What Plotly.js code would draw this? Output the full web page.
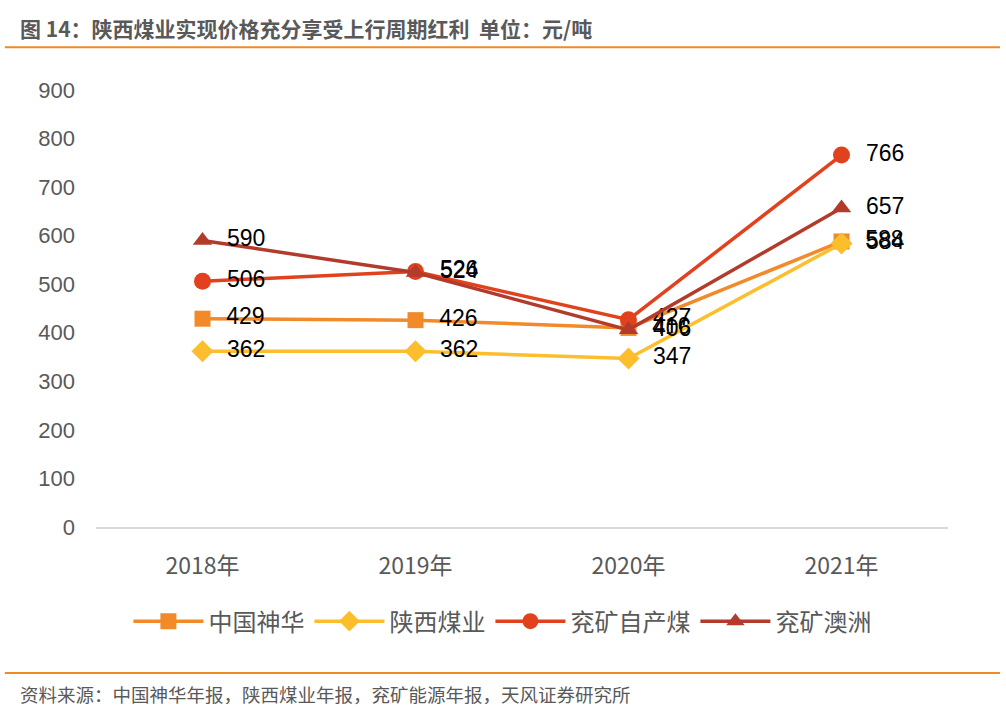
<!DOCTYPE html>
<html><head><meta charset="utf-8">
<script src="https://cdn.plot.ly/plotly-3.0.1.min.js"></script>
<style>html,body{margin:0;padding:0;background:#fff}#chart{width:1006px;height:713px}</style>
</head><body><div id="chart"></div>
<script>
const categories = ['2018年','2019年','2020年','2021年'];
const shenhua = [429, 426, 410, 588];
const shaanxi = [362, 362, 347, 584];
const yankuangSelf = [506, 526, 427, 766];
const yankuangAus = [590, 524, 406, 657];
const seriesNames = ['中国神华','陕西煤业','兖矿自产煤','兖矿澳洲'];
const yTicks = [0,100,200,300,400,500,600,700,800,900];

const FONT = 'Liberation Sans, Arial, Noto Sans CJK SC, sans-serif';
const CJK = 'Noto Sans CJK SC, Liberation Sans, sans-serif';

function mk(name, y, color, symbol, size){
  return {
    x: categories, y: y, name: name, type: 'scatter', mode: 'lines+markers+text',
    line: {color: color, width: 3.5},
    marker: {color: color, symbol: symbol, size: size},
    text: y.map(v => '\u00a0\u00a0' + v), textposition: 'middle right',
    textfont: {family: FONT, size: 23, color: '#000'},
    cliponaxis: false
  };
}
const data = [
  mk(seriesNames[0], shenhua, '#F28A2A', 'square', 16),
  mk(seriesNames[1], shaanxi, '#FCBE2C', 'diamond', 17),
  mk(seriesNames[2], yankuangSelf, '#E2411E', 'circle', 17),
  mk(seriesNames[3], yankuangAus, '#B33B2B', 'triangle-up', 17)
];
const layout = {
  width: 1006, height: 713,
  margin: {l: 96, r: 58, t: 90, b: 186},
  paper_bgcolor: '#fff', plot_bgcolor: '#fff',
  showlegend: true,
  legend: {orientation: 'h', x: 0.477, xanchor: 'center', y: -0.165, yanchor: 'top',
    font: {family: CJK, size: 24, color: '#595959'}, itemwidth: 70, traceorder: 'normal'},
  xaxis: {type: 'category', range: [-0.5, 3.5], showgrid: false, zeroline: false,
    showline: true, linecolor: '#D9D9D9', linewidth: 1.5, ticks: '',
    tickfont: {family: CJK, size: 23, color: '#595959'}, ticklabelstandoff: 18},
  yaxis: {range: [0, 900], tickvals: yTicks, ticktext: yTicks.map(String), showgrid: false, zeroline: false,
    showline: false, ticks: '', tickfont: {family: FONT, size: 22, color: '#595959'}, ticklabelstandoff: 20},
  shapes: [
    {type: 'line', xref: 'paper', yref: 'paper', x0: -0.107, x1: 1.061, y0: 1.098, y1: 1.098,
      line: {color: '#F08A24', width: 2}},
    {type: 'line', xref: 'paper', yref: 'paper', x0: -0.107, x1: 1.061, y0: -0.334, y1: -0.334,
      line: {color: '#F08A24', width: 2}}
  ],
  annotations: [
    {text: '<b>图 14：陕西煤业实现价格充分享受上行周期红利  单位：元/吨</b>', xref: 'paper', yref: 'paper',
      x: -0.092, y: 1.142, xanchor: 'left', yanchor: 'middle', showarrow: false,
      font: {family: CJK, size: 21, color: '#595959'}},
    {text: '资料来源：中国神华年报，陕西煤业年报，兖矿能源年报，天风证券研究所', xref: 'paper', yref: 'paper',
      x: -0.092, y: -0.382, xanchor: 'left', yanchor: 'middle', showarrow: false,
      font: {family: CJK, size: 18.5, color: '#595959'}}
  ]
};
Plotly.newPlot('chart', data, layout, {displayModeBar: false, staticPlot: true});
</script></body></html>
